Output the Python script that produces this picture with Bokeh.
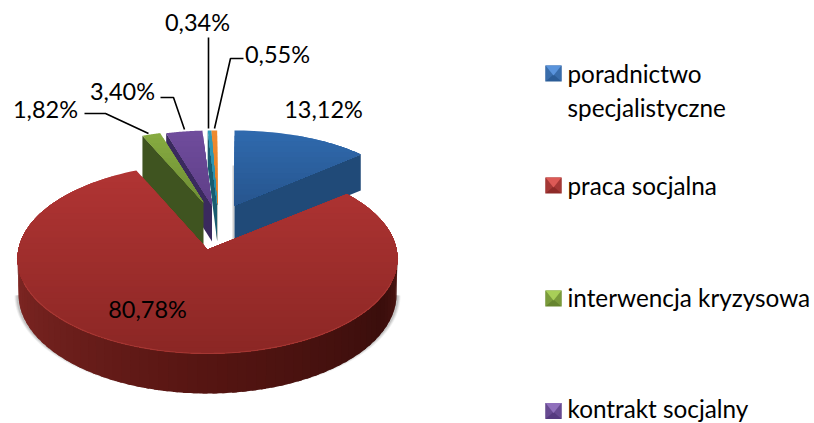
import math
from bokeh.plotting import figure
from bokeh.models import Range1d
from bokeh.core.properties import value
from bokeh.embed import file_html
from bokeh.resources import INLINE

categories = ["poradnictwo specjalistyczne", "praca socjalna", "interwencja kryzysowa",
              "kontrakt socjalny", "inne 1", "inne 2"]
shares = [13.12, 80.78, 1.82, 3.40, 0.34, 0.55]
share_labels = ["13,12%", "80,78%", "1,82%", "3,40%", "0,34%", "0,55%"]
legend_lines = [["poradnictwo", "specjalistyczne"], ["praca socjalna"],
                ["interwencja kryzysowa"], ["kontrakt socjalny"]]

# ---- layout & style (reference pixel space) ----
FONT = "Lato"
FS = "23.5px"
LEG_FS = "24.3px"
W, H = 814, 423
# slice geometry: centre x, centre y, semi-x, semi-y, apex x, apex y
GEOM = [
    (234, 205, 172, 75, 234, 205),
    (207, 258, 190, 95, 207, 249),
    (203, 202, 163, 72, 203, 202),
    (211.5, 205, 172, 75, 211.5, 205),
    (216.7, 205, 170, 75, 216.7, 205),
    (216.7, 205, 170, 75, 216.7, 205),
]
DEPTH = 36
WALL_DEPTH = [36, 36, 44, 36, 36, 36]
TOP_COL = [("#2f69ad", "#27568f"), ("#b03433", "#8c2725"), ("#86aa40", "#6f8f36"),
           ("#6f4c9c", "#5f3f88"), ("#2f9ab8", "#278aa6"), ("#ee8a30", "#e07c25")]
WALL_COL = ["#204a78", "#5a1613", "#3f5420", "#3a2a5e", "#1a5c70", "#8a4a15"]
LABEL_POS = [(323, 108), (147, 308), (45, 108), (122, 90), (197, 21), (277, 53)]
LEADERS = [
    None, None,
    [(84, 113), (105, 113), (148, 133)],
    [(160, 97), (173, 97), (184, 129)],
    [(208, 37), (208, 128)],
    [(243, 58), (230, 58), (214, 128)],
]
LEG_X = 545
LEG_SIZE = 16
LEG_Y = [73, 185, 298, 410.5]
LEG_TEXT_Y = [73, 185, 297, 407.5]
LEG_TEXT_X = 567
LEG_LINE_H = 34
LEG_COL = [("#5a94dc", "#2b5c96"), ("#dc5a56", "#8e2a28"), ("#a8cf58", "#66852f"), ("#9070bc", "#553a7f")]
SIDE_STOPS = [(0.0, (0x4e, 0x16, 0x12)), (0.12, (0x3a, 0x0e, 0x0c)), (0.5, (0x56, 0x15, 0x12)),
              (1.0, (0x80, 0x27, 0x24))]

p = figure(width=W, height=H, x_range=Range1d(0, W), y_range=Range1d(H, 0),
           output_backend="svg", toolbar_location=None, min_border=0)
p.axis.visible = False
p.grid.visible = False
p.outline_line_color = None
p.background_fill_color = "white"
p.border_fill_color = "white"


def mix(a, b, t):
    ca = [int(a[i:i + 2], 16) for i in (1, 3, 5)]
    cb = [int(b[i:i + 2], 16) for i in (1, 3, 5)]
    return "#%02x%02x%02x" % tuple(round(x + (y - x) * t) for x, y in zip(ca, cb))


def rim(g, t0, t1, n=60, dy=0):
    cx, cy, a, b = g[:4]
    pts = []
    for i in range(n + 1):
        t = math.radians(t0 + (t1 - t0) * i / n)
        pts.append((cx + a * math.sin(t), cy + dy - b * math.cos(t)))
    return pts


def clip_below(poly, yk):
    out = []
    for i, (x0, y0) in enumerate(poly):
        x1, y1 = poly[(i + 1) % len(poly)]
        if y0 >= yk:
            out.append((x0, y0))
        if (y0 >= yk) != (y1 >= yk):
            s = (yk - y0) / (y1 - y0)
            out.append((x0 + (x1 - x0) * s, yk))
    return out


def fill(poly, color, alpha=1.0):
    p.patch([q[0] for q in poly], [q[1] for q in poly], fill_color=color,
            fill_alpha=alpha, line_color=None)


def gradient(poly, c0, c1, bands=24):
    ys = [q[1] for q in poly]
    y0, y1 = min(ys), max(ys)
    for k in range(bands):
        yk = y0 + (y1 - y0) * k / bands
        part = clip_below(poly, yk)
        if len(part) >= 3:
            fill(part, mix(c0, c1, k / (bands - 1)))


# angles derived from the values
total = sum(shares)
angles = []
acc = 0.0
for s in shares:
    angles.append((acc, acc + s / total * 360))
    acc += s / total * 360

red_i = 1
# soft shadow of the big slice
rg = GEOM[red_i]
for grow, alpha in ((3, 0.12), (2, 0.18), (1, 0.25)):
    g2 = (rg[0], rg[1], rg[2] + grow, rg[3] + grow)
    arc = rim(g2, 90, 270, 90, DEPTH + 1)
    fill([(rg[0] - rg[2] - grow, rg[1])] + arc + [(rg[0] + rg[2] + grow, rg[1])], "#808080", alpha)

# back slices: wall first, then top
for i in [0, 5, 4, 3, 2]:
    g = GEOM[i]
    t0, t1 = angles[i]
    ax, ay = g[4], g[5]
    d = WALL_DEPTH[i]
    edge_t = t1 if i == 0 else t0
    e = rim(g, edge_t, edge_t, 1)[0]
    if i == 0:
        # soft grey shadow on the left of the blue slice
        fill([(ax - 2, g[1] - 40), (ax, g[1] - 40), (ax, ay + d), (ax - 2, ay + d)], "#bbbbbb", 0.7)
    fill([(ax, ay), e, (e[0], e[1] + d), (ax, ay + d)], WALL_COL[i])
    gradient([(ax, ay)] + rim(g, t0, t1, 30), TOP_COL[i][0], TOP_COL[i][1], 14)

# big slice side, strips across the front
step = 3
th = 90
while th < 270:
    f = (th - 90) / 180
    for j in range(len(SIDE_STOPS) - 1):
        if SIDE_STOPS[j][0] <= f <= SIDE_STOPS[j + 1][0]:
            s0, c0 = SIDE_STOPS[j]
            s1, c1 = SIDE_STOPS[j + 1]
            u = (f - s0) / (s1 - s0)
            col = "#%02x%02x%02x" % tuple(round(x + (y - x) * u) for x, y in zip(c0, c1))
            break
    t1 = min(th + step * 1.5, 270)
    upper = rim(rg, th, t1, 4)
    lower = rim((rg[0], rg[1], rg[2] - 1, rg[3] + 4), th, t1, 4, DEPTH)
    fill(upper + lower[::-1], col)
    th += step

# big slice top
t0, t1 = angles[red_i]
gradient([(rg[4], rg[5])] + rim(rg, t0, t1, 160), TOP_COL[1][0], TOP_COL[1][1], 30)
hl = rim(rg, 105, 255, 80)
p.line([q[0] for q in hl], [q[1] for q in hl], line_color="#b5423d", line_width=1.2, line_alpha=0.6)

# leader lines
for pts in LEADERS:
    if pts:
        p.line([q[0] for q in pts], [q[1] for q in pts], line_color="black", line_width=1.6)

# value labels
p.text([q[0] for q in LABEL_POS], [q[1] for q in LABEL_POS], text=share_labels,
       text_font=value(FONT), text_font_size=value(FS), text_color="black",
       text_align="center", text_baseline="middle")

# legend
for yc, yt, lines, (c_hi, c_lo) in zip(LEG_Y, LEG_TEXT_Y, legend_lines, LEG_COL):
    x0, x1 = LEG_X, LEG_X + LEG_SIZE
    y0, y1 = yc - LEG_SIZE / 2, yc + LEG_SIZE / 2
    xm = (x0 + x1) / 2
    fill([(x0, y0), (x1, y0), (x1, y1), (x0, y1)], c_lo)
    fill([(x0, y0), (xm, yc + 1), (x0, y1)], mix(c_lo, c_hi, 0.3))
    fill([(x1, y0), (xm, yc + 1), (x1, y1)], mix(c_lo, c_hi, 0.3))
    fill([(x0, y0), (x1, y0), (xm, yc + 2)], c_hi)
    for k, line in enumerate(lines):
        p.text([LEG_TEXT_X], [yt + k * LEG_LINE_H], text=[line], text_font=value(FONT),
               text_font_size=value(LEG_FS), text_color="black", text_align="left", text_baseline="middle")

open("out.html", "w").write(file_html(p, INLINE))
